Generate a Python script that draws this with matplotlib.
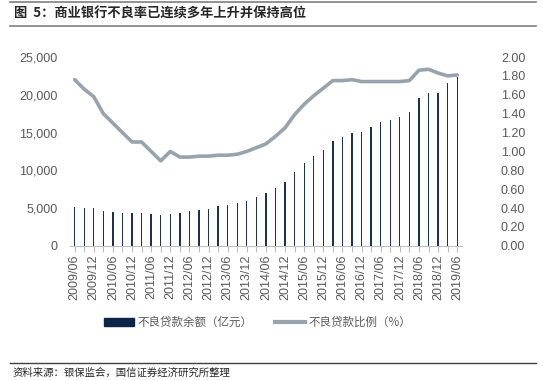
import matplotlib
matplotlib.use("Agg")
import matplotlib.pyplot as plt
from matplotlib.lines import Line2D
from matplotlib.patches import Patch

plt.rcParams['font.family'] = ['Liberation Sans', 'Noto Sans CJK SC', 'DejaVu Sans']

quarters = ['2009/06', '2009/09', '2009/12', '2010/03', '2010/06', '2010/09', '2010/12',
            '2011/03', '2011/06', '2011/09', '2011/12', '2012/03', '2012/06', '2012/09',
            '2012/12', '2013/03', '2013/06', '2013/09', '2013/12', '2014/03', '2014/06',
            '2014/09', '2014/12', '2015/03', '2015/06', '2015/09', '2015/12', '2016/03',
            '2016/06', '2016/09', '2016/12', '2017/03', '2017/06', '2017/09', '2017/12',
            '2018/03', '2018/06', '2018/09', '2018/12', '2019/03', '2019/06']
npl_amount = [5181, 5044, 4973, 4670, 4540, 4330, 4293, 4333, 4236, 4078, 4279, 4382,
              4564, 4788, 4929, 5265, 5395, 5636, 5921, 6461, 6944, 7669, 8426, 9825,
              10919, 11863, 12744, 13921, 14373, 14939, 15123, 15795, 16358, 16704, 17057,
              17742, 19571, 20254, 20254, 21571, 22352]
npl_ratio = [1.76, 1.66, 1.58, 1.40, 1.30, 1.20, 1.10, 1.10, 1.00, 0.90, 1.00, 0.94,
             0.94, 0.95, 0.95, 0.96, 0.96, 0.97, 1.00, 1.04, 1.08, 1.16, 1.25, 1.39,
             1.50, 1.59, 1.67, 1.75, 1.75, 1.76, 1.74, 1.74, 1.74, 1.74, 1.74, 1.75,
             1.86, 1.87, 1.83, 1.80, 1.81]

bar_color = '#1b3150'
line_color = '#97a3ad'
text_color = '#595959'

fig = plt.figure(figsize=(5.5, 3.8), dpi=100)
ax = fig.add_axes([0.127, 0.353, 0.713, 0.497])
x = list(range(len(quarters)))
ax.bar(x, npl_amount, width=0.14, color=bar_color)
ax.set_xlim(-0.5, len(quarters) - 0.5)
ax.set_ylim(0, 25000)
ax.set_yticks(range(0, 25001, 5000))
ax.set_yticklabels([f'{v:,}' for v in range(0, 25001, 5000)])
ax.set_xticks(x)
ax.set_xticklabels([q if i % 2 == 0 else '' for i, q in enumerate(quarters)], rotation=90)

ax2 = ax.twinx()
ax2.plot(x, npl_ratio, color=line_color, linewidth=2.6, solid_capstyle='round')
ax2.set_ylim(0, 2.0)
ax2.set_yticks([i * 0.2 for i in range(11)])
ax2.set_yticklabels([f'{i * 0.2:.2f}' for i in range(11)])

for a in (ax, ax2):
    for s in a.spines.values():
        s.set_visible(False)
    a.tick_params(axis='y', length=0, labelsize=9, colors=text_color)
ax.tick_params(axis='y', pad=9)
ax2.tick_params(axis='y', pad=28)
ax.spines['bottom'].set_visible(True)
ax.spines['bottom'].set_color('#bfbfbf')
ax.tick_params(axis='x', length=4, color='#bfbfbf', labelsize=9, labelcolor=text_color, pad=2)

handles = [Patch(color='#0b2447'), Line2D([0], [0], color=line_color, linewidth=3)]
fig.legend(handles, ['不良贷款余额（亿元）', '不良贷款比例（%）'], loc='center',
           bbox_to_anchor=(0.468, 0.152), ncol=2, frameon=False,
           labelcolor=text_color, handlelength=2.6, handletextpad=0.3, columnspacing=2.0,
           prop={'family': ['Noto Sans CJK SC'], 'size': 8.3})

fig.add_artist(Line2D([0.018, 0.975], [0.994, 0.994], color='#7f7f7f', linewidth=1.2))
fig.add_artist(Line2D([0.018, 0.975], [0.932, 0.932], color='#7f7f7f', linewidth=1.2))
fig.text(0.025, 0.963, '图  5：商业银行不良率已连续多年上升并保持高位', fontsize=9.5,
         fontweight='bold', va='center', color='#262626', family=['Noto Sans CJK SC'])
fig.add_artist(Line2D([0.018, 0.975], [0.046, 0.046], color='#404040', linewidth=1))
fig.text(0.022, 0.02, '资料来源：银保监会，国信证券经济研究所整理', fontsize=7.5,
         va='center', color='#262626', family=['Noto Sans CJK SC'])

fig.savefig('out.png', dpi=100)
